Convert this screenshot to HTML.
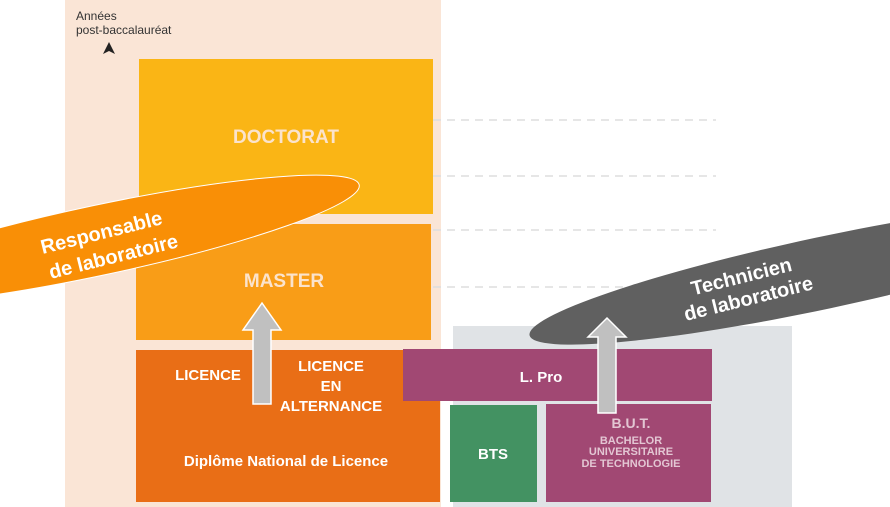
<!DOCTYPE html>
<html><head><style>body{margin:0;background:#fff}svg{display:block}text{font-family:"Liberation Sans",sans-serif;font-weight:bold}</style></head><body>
<svg width="890" height="507" viewBox="0 0 890 507">
<rect x="65" y="0" width="376" height="507" fill="#fae5d6"/>
<rect x="453" y="326" width="339" height="181" fill="#e0e3e6"/>
<g stroke="#ddd" stroke-width="1.5" stroke-dasharray="8,6">
<line x1="433" y1="120" x2="716" y2="120"/><line x1="433" y1="176" x2="716" y2="176"/>
<line x1="433" y1="230" x2="716" y2="230"/><line x1="433" y1="287" x2="716" y2="287"/>
</g>
<text x="76" y="20" font-size="12" fill="#333" style="font-weight:normal">Années</text>
<text x="76" y="34" font-size="12" fill="#333" style="font-weight:normal">post-baccalauréat</text>
<polygon points="109,42 103,54 109,51 115,54" fill="#222"/>
<rect x="139" y="59" width="294" height="155" fill="#fab515"/>
<text x="286" y="143" font-size="19" fill="#fbe3cc" text-anchor="middle">DOCTORAT</text>
<rect x="136" y="224" width="295" height="116" fill="#f99d17"/>
<text x="284" y="287" font-size="19" fill="#fbe3cc" text-anchor="middle">MASTER</text>
<rect x="136" y="350" width="304" height="152" fill="#e96e16"/>
<text x="208" y="380" font-size="15" fill="#fff" text-anchor="middle">LICENCE</text>
<text x="331" y="371" font-size="15" fill="#fff" text-anchor="middle">LICENCE</text>
<text x="331" y="391" font-size="15" fill="#fff" text-anchor="middle">EN</text>
<text x="331" y="411" font-size="15" fill="#fff" text-anchor="middle">ALTERNANCE</text>
<text x="286" y="466" font-size="15" fill="#fff" text-anchor="middle">Diplôme National de Licence</text>
<rect x="403" y="349" width="309" height="52" fill="#a14873"/>
<text x="541" y="382" font-size="15" fill="#fff" text-anchor="middle">L. Pro</text>
<rect x="450" y="405" width="87" height="97" fill="#439262"/>
<text x="493" y="459" font-size="15" fill="#fff" text-anchor="middle">BTS</text>
<rect x="546" y="404" width="165" height="98" fill="#a14873"/>
<text x="631" y="428" font-size="14" fill="#e3c6d3" text-anchor="middle">B.U.T.</text>
<text x="631" y="444" font-size="11" fill="#e3c6d3" text-anchor="middle">BACHELOR</text>
<text x="631" y="455" font-size="11" fill="#e3c6d3" text-anchor="middle">UNIVERSITAIRE</text>
<text x="631" y="467" font-size="11" fill="#e3c6d3" text-anchor="middle">DE TECHNOLOGIE</text>
<polygon points="253,404 253,330 243,330 262,303 281,330 271,330 271,404" fill="#c0c0c0" stroke="#fff" stroke-width="1.5"/>
<ellipse cx="100" cy="240" rx="265" ry="35" fill="#f98f06" stroke="#fff" stroke-width="1" transform="rotate(-12 100 240)"/>
<text x="103" y="239" font-size="20" fill="#fff" text-anchor="middle" transform="rotate(-14 103 239)">Responsable</text>
<text x="115" y="263" font-size="20" fill="#fff" text-anchor="middle" transform="rotate(-14 115 263)">de laboratoire</text>
<ellipse cx="823" cy="273" rx="300" ry="36" fill="#606060" transform="rotate(-12 823 273)"/>
<text x="743" y="283" font-size="20" fill="#fff" text-anchor="middle" transform="rotate(-14 743 283)">Technicien</text>
<text x="750" y="305" font-size="20" fill="#fff" text-anchor="middle" transform="rotate(-14 750 305)">de laboratoire</text>
<polygon points="598,413 598,337 588,337 607,318 626,337 616,337 616,413" fill="#c0c0c0" stroke="#fff" stroke-width="1.5"/>
</svg>
</body></html>
